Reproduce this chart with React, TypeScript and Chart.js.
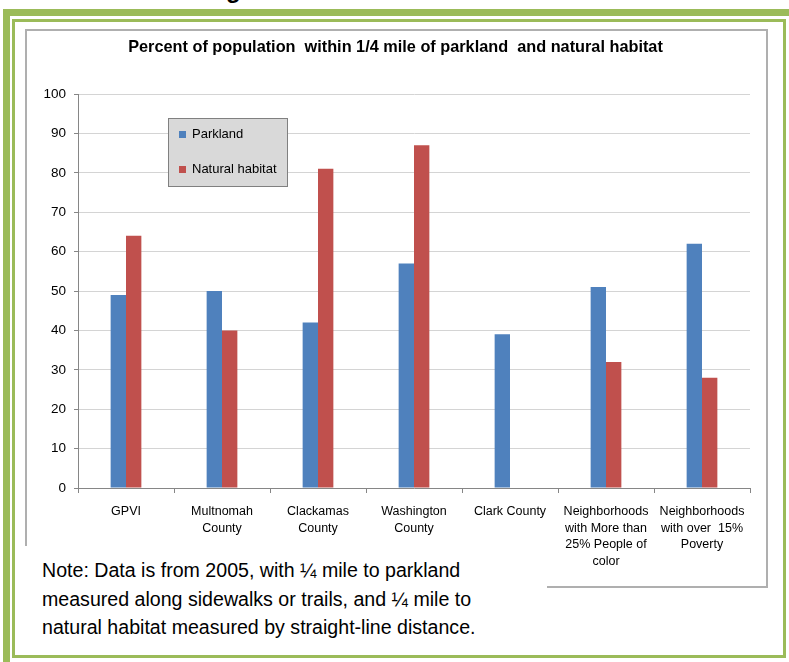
import React, { useEffect, useRef } from "react";
import { Chart, registerables } from "chart.js";
Chart.register(...registerables);

const categories: string[][] = [
  ["GPVI"],
  ["Multnomah", "County"],
  ["Clackamas", "County"],
  ["Washington", "County"],
  ["Clark County"],
  ["Neighborhoods", "with More than", "25% People of", "color"],
  ["Neighborhoods", "with over  15%", "Poverty"],
];
const parkland: (number | null)[] = [49, 50, 42, 57, 39, 51, 62];
const naturalHabitat: (number | null)[] = [64, 40, 81, 87, null, 32, 28];
const seriesNames = ["Parkland", "Natural habitat"];
const seriesColors = ["#4F81BD", "#C0504D"];
const yMin = 0;
const yMax = 100;
const yStep = 10;
const titleText = "Percent of population  within 1/4 mile of parkland  and natural habitat";
const noteLines = [
  "Note: Data is from 2005, with \u00BC mile to parkland",
  "measured along sidewalks or trails, and \u00BC mile to",
  "natural habitat measured by straight-line distance.",
];

const FONT = "'Liberation Sans', Arial, sans-serif";

const titlePlugin = {
  id: "customTitle",
  afterDraw(chart: any) {
    const ctx = chart.ctx;
    ctx.save();
    ctx.font = `bold 16.3px ${FONT}`;
    ctx.fillStyle = "#000";
    ctx.textAlign = "center";
    ctx.textBaseline = "middle";
    ctx.fillText(titleText, chart.width / 2, 18);
    ctx.restore();
  },
};

const boxLegendPlugin = {
  id: "boxLegend",
  afterDatasetsDraw(chart: any) {
    const ctx = chart.ctx;
    const x = 142, y = 88, w = 119, h = 68;
    ctx.save();
    ctx.fillStyle = "#D9D9D9";
    ctx.fillRect(x, y, w, h);
    ctx.strokeStyle = "#808080";
    ctx.lineWidth = 1;
    ctx.strokeRect(x + 0.5, y + 0.5, w, h);
    ctx.font = `13px ${FONT}`;
    ctx.textBaseline = "middle";
    ctx.textAlign = "left";
    chart.data.datasets.forEach((ds: any, i: number) => {
      const cy = y + 16.5 + i * 35;
      ctx.fillStyle = ds.backgroundColor;
      ctx.fillRect(x + 11, cy - 3.5, 7, 7);
      ctx.fillStyle = "#000";
      ctx.fillText(ds.label, x + 24, cy);
    });
    ctx.restore();
  },
};

function ChartView() {
  const ref = useRef<HTMLCanvasElement | null>(null);
  useEffect(() => {
    if (!ref.current) return;
    const chart = new Chart(ref.current, {
      type: "bar",
      data: {
        labels: categories,
        datasets: [
          { label: seriesNames[0], data: parkland, backgroundColor: seriesColors[0], categoryPercentage: 0.32, barPercentage: 1 },
          { label: seriesNames[1], data: naturalHabitat, backgroundColor: seriesColors[1], categoryPercentage: 0.32, barPercentage: 1 },
        ],
      },
      options: {
        animation: false,
        responsive: false,
        maintainAspectRatio: false,
        layout: { padding: { top: 64, right: 15, bottom: 0, left: 0 } },
        plugins: { legend: { display: false }, title: { display: false }, tooltip: { enabled: false } },
        scales: {
          x: {
            grid: { drawOnChartArea: false, drawTicks: true, tickLength: 5, color: "#868686", offset: true },
            border: { color: "#868686" },
            ticks: { font: { family: FONT, size: 12.5, lineHeight: 1.34 }, color: "#000", padding: 10, maxRotation: 0, autoSkip: false },
            afterFit: (s: any) => { s.height = 97; },
          },
          y: {
            min: yMin,
            max: yMax,
            ticks: { stepSize: yStep, font: { family: FONT, size: 13.5 }, color: "#000", padding: 8 },
            grid: { color: "#D4D4D4", tickColor: "#868686", tickLength: 4 },
            border: { color: "#868686" },
            afterFit: (s: any) => { s.width = 52; },
          },
        },
      },
      plugins: [titlePlugin, boxLegendPlugin],
    });
    return () => chart.destroy();
  }, []);
  return <canvas ref={ref} width={739} height={555} style={{ position: "absolute", left: 26, top: 30, width: 739, height: 555 }} />;
}

export default function App() {
  const green = "#9BBB59";
  return (
    <div style={{ position: "fixed", left: 0, top: 0, width: 789, height: 662, overflow: "hidden", background: "#fff" }}>
      <div style={{ position: "absolute", left: 226, top: -22, font: `bold 24px ${FONT}`, lineHeight: "24px" }}>g</div>
      <div style={{ position: "absolute", left: 3, top: 9, width: 786, height: 7, background: green }} />
      <div style={{ position: "absolute", left: 3, top: 9, width: 7, height: 653, background: green }} />
      <div style={{ position: "absolute", left: 12, top: 19, width: 768, height: 633, border: `3px solid ${green}` }} />
      <div style={{ position: "absolute", left: 25, top: 29, width: 739, height: 555, border: "2px solid #AFAFAF" }} />
      <ChartView />
      <div style={{ position: "absolute", left: 20, top: 546, width: 527, height: 104, background: "#fff" }}>
        {noteLines.map((l, i) => (
          <div key={i} style={{ position: "absolute", left: 22, top: 11 + i * 28.5, font: `19.6px ${FONT}`, lineHeight: "26px", whiteSpace: "nowrap" }}>{l}</div>
        ))}
      </div>
    </div>
  );
}
